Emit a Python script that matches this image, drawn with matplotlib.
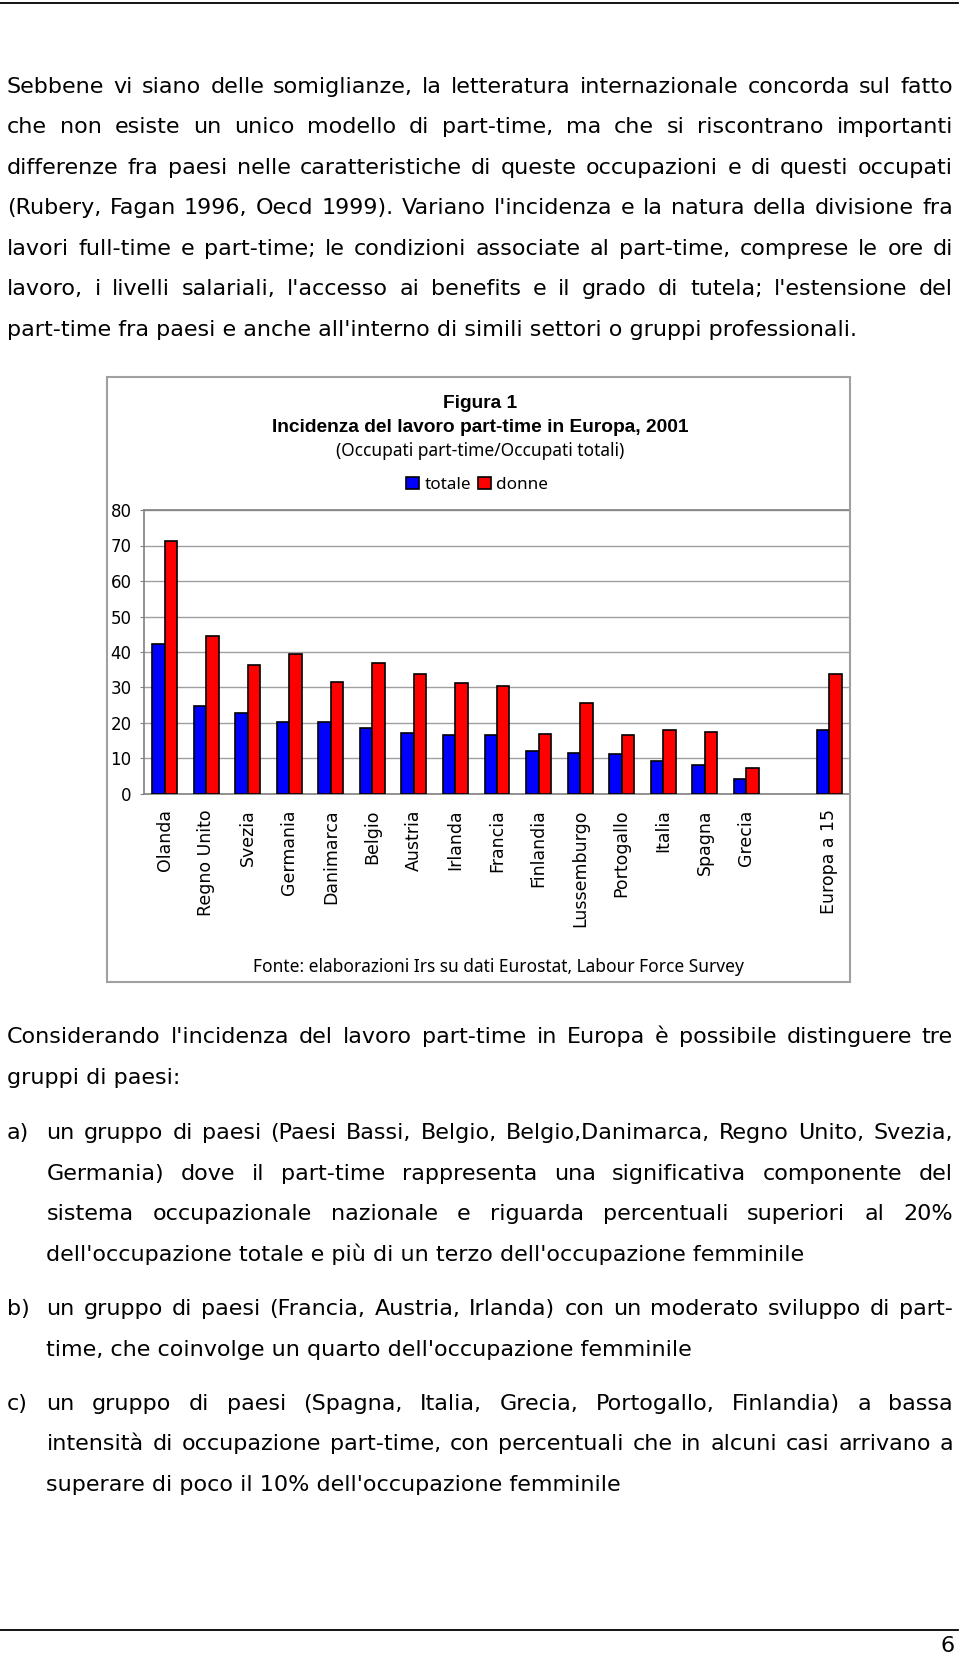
import matplotlib
matplotlib.use('Agg')
import matplotlib.pyplot as plt
from matplotlib.lines import Line2D
from matplotlib.patches import Rectangle
import numpy as np

# data
countries = ['Olanda', 'Regno Unito', 'Svezia', 'Germania', 'Danimarca', 'Belgio',
             'Austria', 'Irlanda', 'Francia', 'Finlandia', 'Lussemburgo', 'Portogallo',
             'Italia', 'Spagna', 'Grecia', 'Europa a 15']
totale = [42.3, 24.8, 22.9, 20.4, 20.2, 18.6, 17.2, 16.7, 16.5, 12.1, 11.5, 11.2,
          9.2, 8.3, 4.1, 18.1]
donne = [71.4, 44.5, 36.4, 39.4, 31.5, 36.9, 33.7, 31.2, 30.5, 16.8, 25.7, 16.5,
         17.9, 17.4, 7.3, 33.9]
yticks = [0, 10, 20, 30, 40, 50, 60, 70, 80]

par1 = ["Sebbene vi siano delle somiglianze, la letteratura internazionale concorda sul fatto",
        "che non esiste un unico modello di part-time, ma che si riscontrano importanti",
        "differenze fra paesi nelle caratteristiche di queste occupazioni e di questi occupati",
        "(Rubery, Fagan 1996, Oecd 1999). Variano l'incidenza e la natura della divisione fra",
        "lavori full-time e part-time; le condizioni associate al part-time, comprese le ore di",
        "lavoro, i livelli salariali, l'accesso ai benefits e il grado di tutela; l'estensione del",
        "part-time fra paesi e anche all'interno di simili settori o gruppi professionali."]
par2 = ["Considerando l'incidenza del lavoro part-time in Europa è possibile distinguere tre",
        "gruppi di paesi:"]
item_a = ["un gruppo di paesi (Paesi Bassi, Belgio, Belgio,Danimarca, Regno Unito, Svezia,",
          "Germania) dove il part-time rappresenta una significativa componente del",
          "sistema occupazionale nazionale e riguarda percentuali superiori al 20%",
          "dell'occupazione totale e più di un terzo dell'occupazione femminile"]
item_b = ["un gruppo di paesi (Francia, Austria, Irlanda) con un moderato sviluppo di part-",
          "time, che coinvolge un quarto dell'occupazione femminile"]
item_c = ["un gruppo di paesi (Spagna, Italia, Grecia, Portogallo, Finlandia) a bassa",
          "intensità di occupazione part-time, con percentuali che in alcuni casi arrivano a",
          "superare di poco il 10% dell'occupazione femminile"]

W, H = 960, 1654
fig = plt.figure(figsize=(W / 100, H / 100), dpi=100)
renderer = fig.canvas.get_renderer()


def fx(x):
    return x / W


def fy(y):
    return 1 - y / H


body = dict(family='DejaVu Sans', color='black')

# body font size chosen so the unjustified line has the same width as in the page
probe = fig.text(0, 0, par1[-1], fontsize=10, **body)
body_size = 10 * 848 / probe.get_window_extent(renderer).width
probe.remove()


def put_line(text, x0, y, x1=None):
    if x1 is None:
        fig.text(fx(x0), fy(y), text, fontsize=body_size, va='baseline', **body)
        return
    words = text.split(' ')
    arts = [fig.text(0, 0, w, fontsize=body_size, va='baseline', **body) for w in words]
    widths = [a.get_window_extent(renderer).width for a in arts]
    gap = (x1 - x0 - sum(widths)) / (len(words) - 1)
    x = x0
    for a, w in zip(arts, widths):
        a.set_position((fx(x), fy(y)))
        x += w + gap


def put_par(lines, x0, y0, step=40.5, right=953):
    for i, line in enumerate(lines):
        last = i == len(lines) - 1
        put_line(line, x0, y0 + i * step, None if last else right)


# page rules and page number
fig.add_artist(Line2D([0, fx(958)], [fy(3), fy(3)], color='black', lw=1.3,
                      transform=fig.transFigure))
fig.add_artist(Line2D([0, fx(958)], [fy(1630), fy(1630)], color='black', lw=1.3,
                      transform=fig.transFigure))
fig.text(fx(955), fy(1652), '6', fontsize=body_size, ha='right', va='baseline', **body)

put_par(par1, 7, 92.7)
put_par(par2, 7, 1043.3)
fig.text(fx(7), fy(1139.3), 'a)', fontsize=body_size, va='baseline', **body)
put_par(item_a, 46.5, 1139.3)
fig.text(fx(7), fy(1315), 'b)', fontsize=body_size, va='baseline', **body)
put_par(item_b, 46.5, 1315)
fig.text(fx(7), fy(1410), 'c)', fontsize=body_size, va='baseline', **body)
put_par(item_c, 46.5, 1410)

# chart frame
fig.add_artist(Rectangle((fx(107), fy(982)), fx(850) - fx(107), fy(377) - fy(982),
                         transform=fig.transFigure, fill=False,
                         edgecolor='#a0a0a0', lw=1.5))

ax = fig.add_axes([fx(144), fy(794), fx(850) - fx(144), fy(510) - fy(794)])
x = np.array(list(range(len(countries) - 1)) + [len(countries)])
bw = 0.3
b1 = ax.bar(x - bw / 2, totale, bw, color='#0000ff', edgecolor='black', lw=1.2,
            label='totale', zorder=3)
b2 = ax.bar(x + bw / 2, donne, bw, color='#ff0000', edgecolor='black', lw=1.2,
            label='donne', zorder=3)
ax.set_xlim(-0.5, len(countries) + 0.5)
ax.set_ylim(0, 80)
ax.set_yticks(yticks)
ax.set_yticklabels([str(v) for v in yticks], fontsize=12, family='DejaVu Sans')
ax.set_xticks(x)
ax.set_xticklabels(countries, rotation=90, fontsize=12.5, family='DejaVu Sans')
ax.tick_params(axis='x', length=0, pad=11)
ax.tick_params(axis='y', length=3, color='#808080', pad=6)
ax.grid(axis='y', color='#a0a0a0', lw=1, zorder=0)
for s in ax.spines.values():
    s.set_color('#808080')
    s.set_linewidth(1.2)

tfont = dict(ha='center', va='center')
fig.text(fx(480), fy(403), 'Figura 1', fontsize=13.8, weight='bold',
         family='Liberation Sans', **tfont)
fig.text(fx(480), fy(427), 'Incidenza del lavoro part-time in Europa, 2001',
         fontsize=13.8, weight='bold', family='Liberation Sans', **tfont)
fig.text(fx(480), fy(451), '(Occupati part-time/Occupati totali)', fontsize=12.5,
         family='Noto Sans', **tfont)
fig.text(fx(498), fy(967), 'Fonte: elaborazioni Irs su dati Eurostat, Labour Force Survey',
         fontsize=12.5, family='Noto Sans', **tfont)

fig.legend(handles=[b1, b2], loc='center', bbox_to_anchor=(fx(477), fy(485)), ncol=2,
           frameon=False, handlelength=0.75, handleheight=0.75, handletextpad=0.3,
           columnspacing=0.4, prop={'family': 'Noto Sans', 'size': 12.3})

fig.savefig('out.png', dpi=100)
